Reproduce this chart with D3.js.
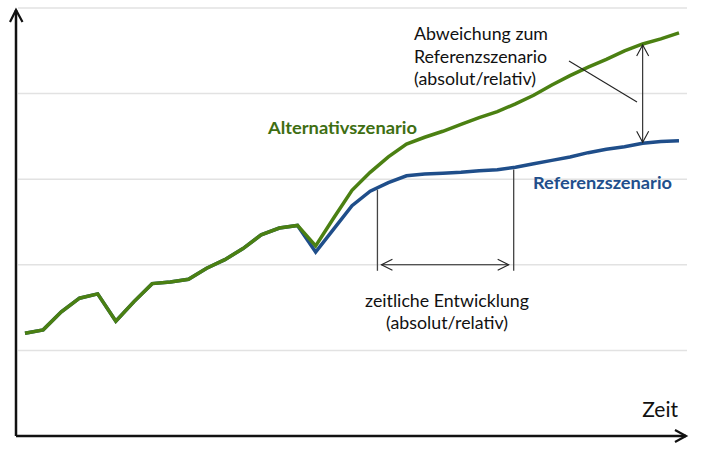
<!DOCTYPE html>
<html>
<head>
<meta charset="utf-8">
<script src="https://cdn.jsdelivr.net/npm/d3@7"></script>
<style>
  html, body { margin: 0; padding: 0; background: #fff; }
  svg { display: block; }
  text { font-family: "Lato", "Open Sans", sans-serif; }
</style>
</head>
<body>
<svg id="chart" width="720" height="454"></svg>
<script>
// ---- Data (values in grid units, time index 0..36) ----
const timeIndex = d3.range(37);
const referenzValues = [
  1.20, 1.24, 1.45, 1.61, 1.66, 1.34, 1.57, 1.78, 1.80, 1.83,
  1.96, 2.06, 2.19, 2.35, 2.43, 2.46, 2.15, 2.42, 2.69, 2.86,
  2.96, 3.04, 3.06, 3.07, 3.08, 3.10, 3.11, 3.14, 3.18, 3.22,
  3.26, 3.31, 3.35, 3.38, 3.42, 3.44, 3.45
];
const alternativValues = [
  1.20, 1.24, 1.45, 1.61, 1.66, 1.34, 1.57, 1.78, 1.80, 1.83,
  1.96, 2.06, 2.19, 2.35, 2.43, 2.46, 2.22, 2.55, 2.87, 3.08,
  3.26, 3.41, 3.49, 3.56, 3.64, 3.72, 3.79, 3.88, 3.98, 4.10,
  4.21, 4.31, 4.40, 4.50, 4.58, 4.64, 4.71
];
const gridTicks = [1, 2, 3, 4, 5];
const seriesNames = ["Referenzszenario", "Alternativszenario"];
const xAxisLabel = "Zeit";
const deviationLabel = ["Abweichung zum", "Referenzszenario", "(absolut/relativ)"];
const timeLabel = ["zeitliche Entwicklung", "(absolut/relativ)"];
// annotation anchors (data units)
const deviationIndex = 34;
const timeSpan = [19.4, 26.9];
const timeArrowValue = 2.0;
const timeLineBottom = 1.93;

// ---- Layout ----
const svg = d3.select("#chart");
const x = d3.scaleLinear().domain([0, 36]).range([25, 679]);
const y = d3.scaleLinear().domain([0, 5]).range([436, 8]);

const green = "#4b8012";
const greenText = "#3e6e12";
const blue = "#1f4e8a";
const blueText = "#224f8c";

// gridlines
svg.append("g")
  .selectAll("line")
  .data(gridTicks)
  .join("line")
  .attr("x1", 18).attr("x2", 687)
  .attr("y1", d => y(d)).attr("y2", d => y(d))
  .attr("stroke", "#e2e2e2")
  .attr("stroke-width", 1.5);

// lines
const line = d3.line().x((d, i) => x(timeIndex[i])).y(d => y(d));
svg.append("path")
  .attr("d", line(referenzValues))
  .attr("fill", "none").attr("stroke", blue)
  .attr("stroke-width", 3.5).attr("stroke-linejoin", "miter");
svg.append("path")
  .attr("d", line(alternativValues))
  .attr("fill", "none").attr("stroke", green)
  .attr("stroke-width", 3.5).attr("stroke-linejoin", "miter");

// axes with arrows
const axisG = svg.append("g").attr("stroke", "#111").attr("fill", "none")
  .attr("stroke-width", 2.5).attr("stroke-linecap", "butt");
axisG.append("path").attr("d", `M16,${y(0)}L16,10`);
axisG.append("path").attr("d", `M10,22L16,10L22.5,22`).attr("stroke-width", 2.2);
axisG.append("path").attr("d", `M16,${y(0)}L686,${y(0)}`);
axisG.append("path").attr("d", `M675,${y(0) - 6}L686,${y(0)}L675,${y(0) + 6}`).attr("stroke-width", 2.2);

svg.append("text")
  .attr("x", 678).attr("y", 417)
  .attr("text-anchor", "end")
  .attr("font-size", 21)
  .attr("fill", "#111")
  .text(xAxisLabel);

// series labels
svg.append("text")
  .attr("x", 268).attr("y", 134)
  .attr("font-size", 17.5).attr("font-weight", "bold")
  .attr("fill", greenText)
  .attr("textLength", 149).attr("lengthAdjust", "spacingAndGlyphs")
  .text(seriesNames[1]);
svg.append("text")
  .attr("x", 533).attr("y", 188.5)
  .attr("font-size", 17.5).attr("font-weight", "bold")
  .attr("fill", blueText)
  .attr("textLength", 139).attr("lengthAdjust", "spacingAndGlyphs")
  .text(seriesNames[0]);

// deviation annotation
const ann = svg.append("g").attr("fill", "none").attr("stroke", "#222").attr("stroke-width", 1.1);
const dx = x(deviationIndex);
const yTop = y(alternativValues[deviationIndex]) + 1;
const yBot = y(referenzValues[deviationIndex]) - 1;
ann.append("path").attr("d", `M${dx},${yTop}L${dx},${yBot}`);
ann.append("path").attr("d", `M${dx - 6},${yTop + 11}L${dx},${yTop}L${dx + 6},${yTop + 11}`);
ann.append("path").attr("d", `M${dx - 6},${yBot - 11}L${dx},${yBot}L${dx + 6},${yBot - 11}`);
ann.append("path").attr("d", `M569,61L637,102`);

const devText = svg.append("text")
  .attr("font-size", 17.8).attr("fill", "#111");
deviationLabel.forEach((t, i) => {
  devText.append("tspan").attr("x", 414).attr("y", 40 + i * 22.5).text(t);
});

// time development annotation
const tl = svg.append("g").attr("fill", "none").attr("stroke", "#444").attr("stroke-width", 1.3);
const interp = v => {
  const i0 = Math.floor(v), f = v - i0;
  return referenzValues[i0] * (1 - f) + referenzValues[i0 + 1] * f;
};
timeSpan.forEach(v => {
  tl.append("line")
    .attr("x1", x(v)).attr("x2", x(v))
    .attr("y1", y(interp(v)) + 2).attr("y2", y(timeLineBottom));
});
const ax0 = x(timeSpan[0]) + 4, ax1 = x(timeSpan[1]) - 5, ay = y(timeArrowValue);
const ta = svg.append("g").attr("fill", "none").attr("stroke", "#222").attr("stroke-width", 1.1);
ta.append("path").attr("d", `M${ax0},${ay}L${ax1},${ay}`);
ta.append("path").attr("d", `M${ax0 + 11},${ay - 5.5}L${ax0},${ay}L${ax0 + 11},${ay + 5.5}`);
ta.append("path").attr("d", `M${ax1 - 11},${ay - 5.5}L${ax1},${ay}L${ax1 - 11},${ay + 5.5}`);

const tText = svg.append("text")
  .attr("font-size", 17.8).attr("fill", "#111").attr("text-anchor", "middle");
timeLabel.forEach((t, i) => {
  tText.append("tspan").attr("x", 447).attr("y", 307 + i * 22).text(t);
});
</script>
</body>
</html>
